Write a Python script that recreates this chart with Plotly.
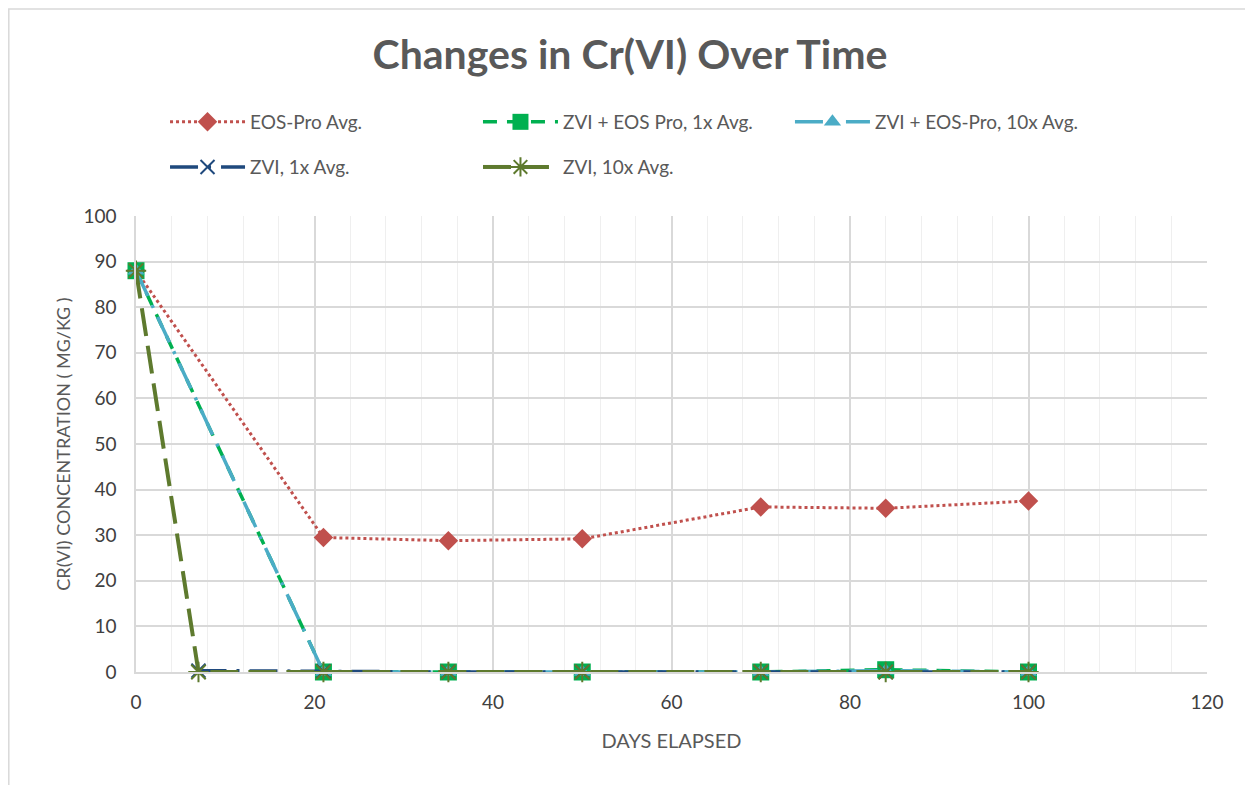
import plotly.graph_objects as go

days = [0, 21, 35, 50, 70, 84, 100]
days_zvi1 = [7, 21, 35, 50, 70, 84, 100]
days_zvi10 = [0, 7, 21, 35, 50, 70, 84, 100]

eos_pro = [88, 29.5, 28.8, 29.2, 36.2, 35.9, 37.5]
zvi_eos_1x = [88, 0, 0, 0, 0, 0.5, 0]
zvi_eos_10x = [88, 0, 0, 0, 0, 0.3, 0]
zvi_1x = [0.3, 0.1, 0, 0, 0, 0, 0]
zvi_10x = [88, 0, 0, 0, 0, 0, 0, 0]

names = ["EOS-Pro Avg.", "ZVI + EOS Pro, 1x Avg.", "ZVI + EOS-Pro, 10x Avg.",
         "ZVI, 1x Avg.", "ZVI, 10x Avg."]

FONT = "Lato"
fig = go.Figure()

fig.add_trace(go.Scatter(x=days, y=eos_pro, name=names[0], mode="lines+markers",
                         line=dict(color="#C0504D", width=3, dash="dot"),
                         marker=dict(symbol="diamond", size=15, color="#C0504D"),
                         cliponaxis=False, legend="legend"))
fig.add_trace(go.Scatter(x=days, y=zvi_eos_1x, name=names[1], mode="lines+markers",
                         line=dict(color="#00B050", width=3.5, dash="14px,10px"),
                         marker=dict(symbol="square", size=17, color="#00B050"),
                         cliponaxis=False, legend="legend2"))
fig.add_trace(go.Scatter(x=days, y=zvi_eos_10x, name=names[2], mode="lines+markers",
                         line=dict(color="#4BACC6", width=3.5, dash="28px,10px,3px,10px"),
                         marker=dict(symbol="triangle-up", size=15, color="#4BACC6"),
                         cliponaxis=False, legend="legend3"))
fig.add_trace(go.Scatter(x=days_zvi1, y=zvi_1x, name=names[3], mode="lines+markers",
                         line=dict(color="#1F497D", width=3.5, dash="28px,10px,3px,10px"),
                         marker=dict(symbol="x-thin-open", size=14, color="#1F497D",
                                     line=dict(width=2, color="#1F497D")),
                         cliponaxis=False, legend="legend4"))
fig.add_trace(go.Scatter(x=days_zvi10, y=zvi_10x, name=names[4], mode="lines+markers",
                         line=dict(color="#5E7A2E", width=4, dash="28px,10px"),
                         marker=dict(symbol="asterisk-open", size=17, color="#5E7A2E",
                                     line=dict(width=2, color="#5E7A2E")),
                         cliponaxis=False, legend="legend5"))

def leg(x, y):
    return dict(x=x, y=y, orientation="v", xanchor="left", yanchor="middle",
                font=dict(family=FONT, size=19, color="#595959"),
                itemwidth=75, bgcolor="rgba(0,0,0,0)")

fig.update_layout(
    width=1253, height=785,
    margin=dict(l=128, r=54, t=208, b=121),
    paper_bgcolor="white", plot_bgcolor="white",
    font=dict(family=FONT, color="#595959"),
    title=dict(text="<b>Changes in Cr(VI) Over Time</b>", x=0.4964, xanchor="center",
               y=0.94, yanchor="middle",
               font=dict(family=FONT, size=41, color="#595959")),
    legend=leg(0.0271, 1.2062),
    legend2=leg(0.3193, 1.2062),
    legend3=leg(0.6106, 1.2062),
    legend4=leg(0.0271, 1.1072),
    legend5=leg(0.3193, 1.1072),
    showlegend=True,
    xaxis=dict(range=[0, 120], tickvals=[0, 20, 40, 60, 80, 100, 120],
               showgrid=True, gridcolor="#D9D9D9", gridwidth=1.5,
               minor=dict(dtick=4, showgrid=True, gridcolor="#EFEFEF", gridwidth=1),
               zeroline=False, showline=True, linecolor="#D9D9D9", linewidth=1.5,
               ticks="", tickfont=dict(family=FONT, size=19, color="#404040"),
               ticklabelstandoff=12,
               title=dict(text="DAYS ELAPSED", standoff=22,
                          font=dict(family=FONT, size=20, color="#595959"))),
    yaxis=dict(range=[0, 100], dtick=10,
               showgrid=True, gridcolor="#D9D9D9", gridwidth=1.5,
               zeroline=False, showline=True, linecolor="#D9D9D9", linewidth=1.5,
               ticks="", tickfont=dict(family=FONT, size=19, color="#404040"),
               ticklabelstandoff=14,
               title=dict(text="CR(VI) CONCENTRATION ( MG/KG )", standoff=8,
                          font=dict(family=FONT, size=18, color="#595959"))),
)

W = 1071.0
H = 456.0
fig.add_shape(type="rect", xref="paper", yref="paper",
              x0=(0.8 - 128) / W, x1=(1270 - 128) / W,
              y0=(664 - 800) / H, y1=(664 - 1) / H,
              line=dict(color="#D9D9D9", width=1.5), layer="below")

fig.write_html("out.html")
